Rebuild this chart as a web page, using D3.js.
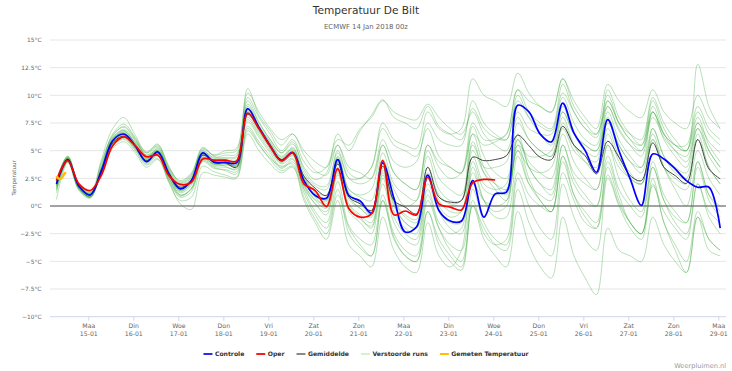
<!DOCTYPE html>
<html>
<head>
<meta charset="utf-8">
<script src="https://cdn.jsdelivr.net/npm/d3@7"></script>
<style>
    html, body { margin: 0; padding: 0; background: #fff; }
    svg { display: block; font-family: "DejaVu Sans", sans-serif; }
</style>
</head>
<body>
<svg id="chart" width="732" height="371"></svg>
<script>

// run 14 Jan 2018 00z, first step shown 06 UTC (07:00 local), 6-hourly
const runStart = Date.UTC(2018, 0, 14, 7)
const stepHours = 6

const controle = [2.0,4.2,1.8,1.0,3.2,5.9,6.5,5.45,4.0,4.9,2.9,1.55,2.3,4.8,3.95,3.95,3.9,
    8.8,7.1,5.45,4.1,4.85,2.3,0.95,0.7,4.2,0.95,0.45,-0.65,3.9,0.7,-2.35,-1.9,2.8,-0.4,-1.35,-1.35,
    2.3,-1.0,1.1,1.25,9.1,8.5,6.5,5.8,9.3,6.6,5.0,3.05,7.8,5.0,2.45,0.05,4.7,4.25,3.35,2.3,1.7,1.7,-2.0]

const oper = [2.3,4.1,2.0,1.4,2.8,5.45,6.25,5.45,4.45,4.6,2.75,1.95,2.15,4.25,4.15,4.15,4.05,
    8.4,7.0,5.4,4.1,4.8,2.0,1.4,-0.05,3.35,-0.25,-1.0,-0.7,4.1,-0.8,-0.45,-0.8,2.6,0.2,-0.1,-0.35,
    2.1,2.4,2.35]

const gemiddelde = [2.0,4.2,1.8,1.0,3.0,5.7,6.3,5.4,4.1,4.8,2.9,1.7,2.3,4.6,4.0,3.9,3.5,
    8.3,7.0,5.4,4.2,4.8,2.7,1.6,0.95,3.8,0.8,0.2,-0.4,3.6,0.5,-0.1,-0.7,3.5,0.8,0.35,0.5,
    4.4,4.1,4.2,4.55,6.4,5.45,4.4,4.2,7.2,5.5,4.55,2.9,5.85,4.4,2.75,2.3,5.7,3.5,2.75,2.05,6.0,3.35,2.45]

const verstoordeRuns = [
    [1.8,4.3,1.6,0.9,3.4,6.2,6.8,5.6,4.3,5.2,3.2,1.9,2.6,5.0,4.3,4.4,4.5,
     9.5,7.6,6.0,4.8,5.6,3.5,2.4,3.0,6.5,5.0,6.8,8.2,9.6,8.0,7.5,7.0,9.0,7.2,6.5,6.0,8.8,7.0,6.2,6.0,
     9.5,8.0,7.2,6.8,10.2,8.5,7.0,6.5,9.0,6.8,5.5,5.0,8.0,6.2,5.0,4.5,7.5,5.8,4.8],
    [2.2,4.4,2.0,1.2,3.0,5.6,6.2,5.2,4.0,4.6,2.5,1.2,1.9,4.4,3.8,3.9,3.6,
     7.2,5.8,4.5,3.4,4.0,1.5,-0.5,-1.5,2.2,-1.8,-3.0,-3.5,1.0,-2.5,-4.0,-4.5,0.5,-2.0,-3.5,-4.0,1.5,-1.5,-3.0,-3.5,
     2.5,0.0,-2.0,-3.0,3.0,0.5,-1.5,-2.0,2.8,0.2,-1.5,-2.5,1.8,-0.5,-2.0,-3.0,2.0,-0.5,-1.5],
    [1.5,4.1,1.7,0.8,3.6,6.4,7.1,6.0,4.6,5.0,3.0,1.0,1.5,4.1,3.5,3.2,2.9,
     8.2,6.8,5.2,3.9,4.6,2.0,0.6,0.2,3.8,0.8,-0.2,-0.8,3.2,0.5,-0.8,-1.2,3.5,1.0,0.2,0.5,6.5,5.5,5.8,6.5,
     10.5,8.5,7.5,7.0,11.0,8.5,7.0,6.2,9.5,7.5,6.5,6.0,9.8,7.5,6.0,5.0,8.5,6.5,5.5],
    [2.4,4.5,1.9,1.1,2.9,5.4,6.0,5.0,3.7,4.3,2.1,0.5,0.8,3.6,3.1,2.8,2.6,
     6.8,5.5,4.3,3.6,3.8,1.2,-0.8,-2.0,1.5,-2.5,-3.8,-4.5,0.5,-2.8,-4.5,-5.0,-0.5,-3.5,-5.0,-5.8,0.5,-2.5,-3.5,-3.0,
     3.0,1.0,0.0,-0.5,4.5,2.0,0.5,0.0,5.5,3.5,2.5,2.0,6.0,3.5,2.0,1.5,5.0,2.5,1.0],
    [2.0,4.0,1.5,0.8,3.3,6.0,6.6,5.8,4.8,5.5,3.6,2.2,2.9,5.2,4.6,4.8,5.0,
     10.6,8.2,6.8,5.5,6.5,4.6,3.2,2.8,5.5,3.0,2.5,3.5,7.5,6.0,5.5,5.2,8.5,7.0,6.5,7.0,11.5,10.0,9.5,9.0,
     12.0,10.2,9.0,8.5,11.5,9.0,7.5,6.5,10.0,7.5,6.0,5.0,9.0,6.5,5.0,4.0,7.0,5.0,3.5],
    [0.6,3.9,1.4,0.7,3.1,5.8,6.4,5.3,4.0,4.8,2.7,1.4,2.0,4.5,3.9,3.6,3.3,
     8.5,7.0,5.6,4.3,5.2,2.6,1.2,0.5,4.0,1.2,0.3,-0.5,4.2,1.5,0.0,0.5,5.5,4.0,3.5,3.0,7.2,4.5,3.0,2.5,
     6.5,3.5,2.0,1.0,5.5,2.5,1.0,0.0,4.5,1.5,0.0,-1.0,4.0,1.0,-0.5,-1.5,3.5,0.5,-1.0],
    [1.9,4.2,1.8,1.0,3.5,6.1,6.9,5.9,4.5,4.9,2.6,0.9,1.6,4.3,3.8,4.0,4.2,
     7.6,6.2,4.8,3.5,4.2,1.8,0.2,-0.5,3.0,-0.5,-1.5,-2.5,2.0,-1.5,-3.0,-3.5,1.0,-2.0,-4.0,-5.0,0.0,-3.0,-4.5,-5.5,
     -0.5,-3.5,-5.5,-6.5,-1.0,-4.5,-6.5,-8.0,-2.0,-4.0,-4.5,-5.0,-1.0,-3.5,-5.0,-6.0,-1.0,-3.0,-4.0],
    [2.1,4.4,1.9,1.2,4.0,6.3,7.2,6.1,4.6,5.3,3.3,2.0,2.7,4.9,4.4,4.6,4.7,
     9.8,8.0,6.5,5.0,6.0,4.0,3.0,3.5,6.0,5.5,7.0,8.0,9.5,8.5,8.0,7.8,9.2,8.0,7.0,6.5,8.5,6.5,5.5,5.0,
     8.0,6.0,5.0,4.5,8.5,6.5,5.5,5.0,9.5,7.5,6.0,5.5,8.5,6.5,5.5,5.5,9.0,7.0,6.0],
    [1.2,4.0,1.6,0.9,2.8,5.2,5.8,4.8,3.5,4.2,2.2,0.2,-0.3,3.0,2.8,2.6,2.5,
     6.5,5.0,3.8,3.0,3.5,0.5,-1.5,-3.0,0.5,-3.5,-4.5,-5.5,-1.0,-4.0,-5.5,-6.0,-1.5,-4.5,-5.5,-4.0,2.0,0.5,0.0,0.5,
     5.0,3.5,3.0,3.5,7.0,5.0,4.0,3.5,7.5,5.5,4.0,3.5,7.0,4.5,3.0,2.5,6.0,3.5,2.0],
    [2.3,4.3,1.7,1.1,3.2,5.7,6.3,5.5,4.2,5.0,3.1,1.7,2.2,4.7,4.0,4.1,4.0,
     8.6,7.0,5.4,4.2,4.9,2.4,1.0,0.6,4.1,1.0,0.2,-0.8,3.6,0.4,-1.0,-1.5,3.0,0.5,-0.5,-0.5,4.5,2.0,1.5,2.0,
     7.5,6.0,5.0,4.5,8.0,5.5,4.0,3.0,7.0,4.5,3.0,2.0,6.0,3.5,2.5,2.0,6.5,3.5,2.0],
    [1.7,4.1,1.5,0.9,3.8,6.5,7.4,6.2,4.8,5.4,3.4,2.3,3.0,5.3,4.5,4.3,4.4,
     9.2,7.5,6.0,4.8,5.8,3.3,2.0,1.8,5.0,2.5,2.0,2.5,6.0,4.0,3.5,4.0,7.5,6.0,5.5,5.5,9.5,7.5,6.5,6.0,
     10.0,8.0,6.5,5.5,9.0,6.5,5.0,4.5,8.5,6.0,4.5,3.5,8.5,6.5,5.5,5.0,12.8,9.0,7.0],
    [2.0,4.3,1.8,1.0,3.0,5.5,6.1,5.1,3.8,4.5,2.4,1.0,1.6,4.2,3.6,3.5,3.4,
     7.8,6.4,5.0,3.8,4.3,1.6,0.2,-0.8,2.8,0.0,-1.0,-2.0,2.5,-1.0,-2.5,-3.0,2.0,-0.5,-1.5,-1.5,4.0,1.5,1.0,1.5,
     6.0,4.0,3.0,2.5,6.5,4.0,2.5,1.5,5.5,2.5,0.5,-0.5,3.5,0.5,-1.5,-2.5,2.0,-1.0,-2.5],
    [1.6,4.2,1.7,0.8,3.3,5.9,6.7,5.7,4.4,5.1,3.0,1.6,2.4,4.6,4.1,3.9,3.7,
     8.0,6.6,5.2,4.0,4.7,2.2,0.8,0.0,3.5,0.2,-0.8,-1.5,3.0,0.0,-1.5,-2.0,2.5,0.0,-1.0,-0.5,5.0,3.0,2.0,1.5,
     5.0,2.0,0.5,-0.5,4.0,1.0,-0.5,-1.5,3.5,0.5,-1.5,-2.5,2.5,-1.5,-3.5,-5.0,-0.5,-3.0,-4.0],
    [2.2,4.4,1.8,1.0,3.1,5.6,6.3,5.2,4.1,4.7,2.8,1.3,2.1,4.4,3.7,3.7,3.8,
     8.8,7.2,5.8,4.5,5.3,3.0,1.8,1.5,4.8,2.5,2.5,3.5,7.0,5.5,5.0,4.5,7.0,4.5,3.5,3.0,6.5,3.5,2.0,1.0,
     5.5,2.5,0.5,-0.5,4.5,1.0,-1.0,-2.0,4.0,1.0,-1.5,-2.5,3.5,0.5,-1.0,-1.5,4.0,1.0,0.0],
    [1.9,4.1,1.6,0.9,3.4,6.1,6.6,5.5,4.2,4.9,3.0,1.8,2.5,4.8,4.2,4.2,4.1,
     9.0,7.3,5.7,4.4,5.1,2.7,1.3,1.0,4.5,1.5,0.8,0.5,4.8,2.0,1.0,0.5,4.5,1.5,0.5,0.5,5.5,3.5,3.5,4.0,
     8.5,7.0,6.5,6.5,9.8,7.5,6.0,5.5,10.5,8.0,6.5,5.5,9.5,7.0,5.5,5.0,8.0,5.5,4.0],
    [2.1,4.3,1.9,1.1,3.0,5.8,6.4,5.4,4.1,4.8,2.8,1.5,2.3,4.6,3.9,3.8,3.6,
     8.3,6.8,5.3,4.0,4.5,1.9,0.5,-0.2,3.2,-0.2,-1.2,-1.8,2.8,-0.5,-2.0,-2.5,1.5,-1.5,-2.5,-2.0,3.0,0.5,-0.5,0.0,
     5.5,4.5,4.5,5.0,8.5,6.5,5.5,5.0,8.0,5.5,4.0,3.0,6.5,3.5,1.5,0.0,4.0,1.0,-0.5],
    [1.4,4.0,1.6,0.8,4.2,7.0,8.0,6.4,4.9,5.6,3.5,2.1,2.8,5.1,4.6,5.0,5.2,
     10.2,8.5,7.0,6.0,6.5,5.0,4.0,3.5,5.5,3.5,3.0,2.5,5.5,3.0,2.0,1.5,5.5,3.5,2.5,3.0,7.5,6.0,6.0,6.5,
     10.5,9.5,9.0,8.5,11.5,9.5,8.0,7.0,11.0,9.5,8.5,8.0,10.5,8.5,7.5,7.0,10.0,8.0,7.0],
    [2.3,4.5,2.0,1.3,3.2,5.7,6.2,5.3,3.9,4.6,2.3,0.8,1.3,4.0,3.4,3.3,3.1,
     7.0,5.6,4.2,3.2,3.6,0.8,-1.2,-2.5,1.0,-2.0,-3.5,-4.5,0.5,-3.0,-4.5,-5.0,-0.5,-3.0,-4.5,-5.5,0.0,-2.0,-3.5,-4.0,
     1.5,-1.5,-3.5,-4.5,2.0,-1.0,-3.0,-4.0,2.5,0.0,-2.0,-3.0,2.0,-1.5,-4.0,-6.0,-1.0,-4.0,-4.5],
    [1.8,4.2,1.7,1.0,3.3,6.0,6.8,5.7,4.3,5.0,3.1,1.6,2.4,4.9,4.1,4.0,4.1,
     8.7,7.1,5.5,4.2,5.0,2.5,1.1,0.8,4.4,1.5,1.0,1.5,5.5,3.0,2.0,1.5,5.0,2.5,1.5,1.0,5.8,3.0,1.5,0.5,
     6.0,3.5,2.0,1.5,7.5,5.5,4.5,4.0,9.0,7.0,5.5,4.5,8.5,6.0,4.5,3.5,7.5,5.0,3.5],
    [2.0,4.3,1.8,1.0,3.1,5.8,6.5,5.4,4.0,4.8,2.7,1.4,2.2,4.6,3.8,3.8,3.7,
     8.4,6.9,5.4,4.1,4.8,2.2,0.9,0.4,3.9,0.6,-0.2,-1.0,3.4,0.2,-1.5,-2.0,2.6,-0.5,-2.0,-2.5,3.5,0.5,-1.0,-1.0,
     4.5,2.0,1.0,0.5,5.5,3.0,2.0,1.5,6.5,4.0,2.5,2.0,7.0,4.5,3.5,3.0,7.0,4.5,3.0]
]

// hourly station observations De Bilt from 07:00
const gemetenStart = Date.UTC(2018, 0, 14, 7)
const gemeten = [2.7, 2.5, 2.45, 2.6, 2.85, 3.05]

const dayNames = ["Maa","Din","Woe","Don","Vri","Zat","Zon","Maa","Din","Woe","Don","Vri","Zat","Zon","Maa"]
const dayDates = ["15-01","16-01","17-01","18-01","19-01","20-01","21-01","22-01","23-01","24-01","25-01","26-01","27-01","28-01","29-01"]
const yTicks = [-10, -7.5, -5, -2.5, 0, 2.5, 5, 7.5, 10, 12.5, 15]

const legendNames = ["Controle", "Oper", "Gemiddelde", "Verstoorde runs", "Gemeten Temperatuur"]
const legendColors = ["#2b2bf0", "#f02020", "#8a8a8a", "#d6efd6", "#ffbf00"]

const svg = d3.select("#chart")

const x = d3.scaleUtc()
    .domain([Date.UTC(2018, 0, 14, 3, 34), Date.UTC(2018, 0, 29, 4, 6)])
    .range([50, 726])

const y = d3.scaleLinear()
    .domain([-10, 15])
    .range([316.7, 40])

const timeAt = (start, hours) => i => new Date(start + i * hours * 3600e3)
const runTime = timeAt(runStart, stepHours)
const obsTime = timeAt(gemetenStart, 1)

// titles
svg.append("text")
    .attr("x", 366).attr("y", 14)
    .attr("text-anchor", "middle")
    .attr("font-size", 10.6)
    .attr("fill", "#333")
    .text("Temperatuur De Bilt")

svg.append("text")
    .attr("x", 366).attr("y", 28.5)
    .attr("text-anchor", "middle")
    .attr("font-size", 6.9)
    .attr("fill", "#666")
    .text("ECMWF 14 Jan 2018 00z")

// grid
svg.append("g")
    .selectAll("line")
    .data(yTicks.filter(d => d > -10))
    .join("line")
    .attr("x1", 50).attr("x2", 726)
    .attr("y1", d => y(d)).attr("y2", d => y(d))
    .attr("stroke", "#e6e6e6")
    .attr("stroke-width", 1)

const yAxis = svg.append("g")
    .attr("transform", "translate(41.5,0)")
    .call(d3.axisLeft(y).tickValues(yTicks).tickSize(0).tickPadding(0)
        .tickFormat(d => `${d < 0 ? "\u2212" : ""}${Math.abs(d)}°C`))
yAxis.select(".domain").remove()
yAxis.selectAll("text")
    .attr("font-size", 5.9)
    .attr("font-family", "DejaVu Sans, sans-serif")
    .attr("fill", "#666")

svg.append("text")
    .attr("transform", "translate(15.5,178) rotate(-90)")
    .attr("text-anchor", "middle")
    .attr("font-size", 5.6)
    .attr("fill", "#666")
    .text("Temperatuur")

// x axis
const dayTicks = dayDates.map((d, i) => new Date(Date.UTC(2018, 0, 15 + i)))
const xAxis = svg.append("g")
    .attr("transform", `translate(0,${y(-10)})`)
    .call(d3.axisBottom(x).tickValues(dayTicks).tickSize(4).tickFormat(""))
xAxis.select(".domain")
    .attr("d", "M50,0H726")
    .attr("stroke", "#ccd6eb")
xAxis.selectAll(".tick line").attr("stroke", "#ccd6eb")
xAxis.selectAll(".tick").each(function (d, i) {
    const t = d3.select(this).append("text")
        .attr("fill", "#666")
        .attr("font-size", 6.2)
        .attr("font-family", "DejaVu Sans, sans-serif")
        .attr("text-anchor", "middle")
    t.append("tspan").attr("x", 0).attr("y", 11).text(dayNames[i])
    t.append("tspan").attr("x", 0).attr("y", 19).text(dayDates[i])
})

// zero line
svg.append("line")
    .attr("x1", 50).attr("x2", 726)
    .attr("y1", y(0)).attr("y2", y(0))
    .attr("stroke", "#555")
    .attr("stroke-width", 1.2)

const line = d3.line()
    .x((d, i) => x(runTime(i)))
    .y(d => y(d))
    .curve(d3.curveCatmullRom.alpha(0.5))

svg.append("g")
    .attr("fill", "none")
    .attr("stroke", "#2ca02c")
    .attr("stroke-opacity", 0.33)
    .attr("stroke-width", 1)
    .selectAll("path")
    .data(verstoordeRuns)
    .join("path")
    .attr("d", line)

svg.append("path")
    .datum(gemiddelde)
    .attr("fill", "none")
    .attr("stroke", "#444")
    .attr("stroke-width", 1)
    .attr("d", line)

svg.append("path")
    .datum(controle)
    .attr("fill", "none")
    .attr("stroke", "#0000ff")
    .attr("stroke-width", 1.7)
    .attr("d", line)

svg.append("path")
    .datum(oper)
    .attr("fill", "none")
    .attr("stroke", "#ff0000")
    .attr("stroke-width", 1.7)
    .attr("d", line)

svg.append("path")
    .datum(gemeten)
    .attr("fill", "none")
    .attr("stroke", "#ffbf00")
    .attr("stroke-width", 2.5)
    .attr("d", d3.line().x((d, i) => x(obsTime(i))).y(d => y(d)).curve(d3.curveMonotoneX))

// legend
const legend = svg.append("g")
let lx = 0
legendNames.forEach((name, i) => {
    const item = legend.append("g").attr("transform", `translate(${lx},0)`)
    item.append("line")
        .attr("x1", 0).attr("x2", 9)
        .attr("y1", 0).attr("y2", 0)
        .attr("stroke", legendColors[i])
        .attr("stroke-width", 2)
    const txt = item.append("text")
        .attr("x", 11.5).attr("y", 2.2)
        .attr("font-size", 6.1)
        .attr("font-weight", "bold")
        .attr("fill", "#333")
        .text(name)
    lx += 11.5 + txt.node().getComputedTextLength() + 12
})
legend.attr("transform", `translate(${366 - (lx - 12) / 2},354)`)

svg.append("text")
    .attr("x", 726).attr("y", 367.5)
    .attr("text-anchor", "end")
    .attr("font-size", 6.6)
    .attr("fill", "#999")
    .text("Weerpluimen.nl")

</script>
</body>
</html>
